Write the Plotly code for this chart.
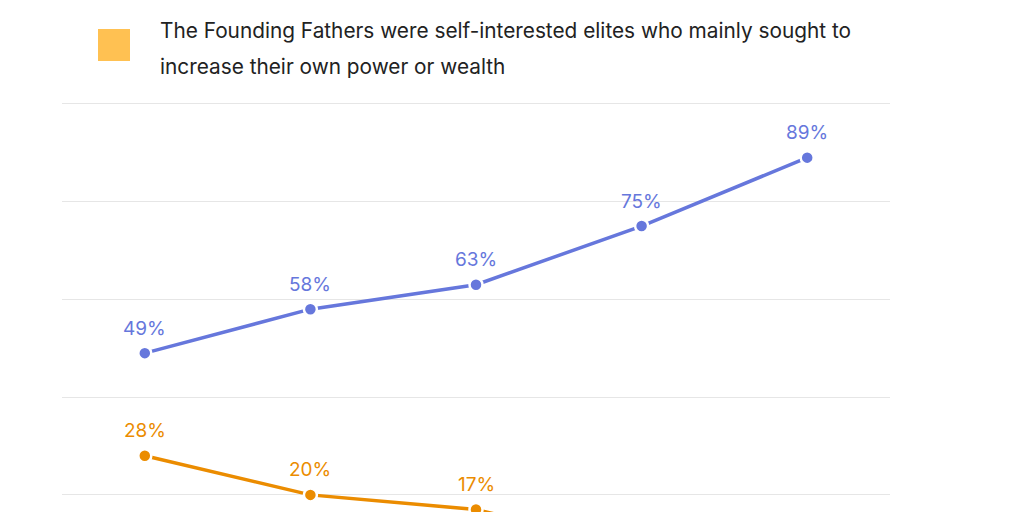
import plotly.graph_objects as go

categories = ["Group 1", "Group 2", "Group 3", "Group 4", "Group 5"]
blue_values = [49, 58, 63, 75, 89]
orange_values = [28, 20, 17, 9, 5]
legend_line1 = "The Founding Fathers were self-interested elites who mainly sought to"
legend_line2 = "increase their own power or wealth"

BLUE = "#6677DC"
ORANGE = "#EB8C00"
SWATCH = "#FFC152"
FONT = "Inter"

TOP = 99
PH = 512 - TOP

fig = go.Figure()
for vals, col in [(blue_values, BLUE), (orange_values, ORANGE)]:
    fig.add_trace(go.Scatter(
        x=categories, y=vals, mode="lines+markers",
        line=dict(color=col, width=3.5),
        marker=dict(size=13, color=col, line=dict(color="white", width=2.5)),
        showlegend=False, cliponaxis=True,
    ))
    for c, v in zip(categories, vals):
        fig.add_annotation(x=c, y=v, text=f"{v}%", showarrow=False,
                           yshift=25, yanchor="middle", xanchor="center",
                           font=dict(family=FONT, size=19, color=col))

fig.add_shape(type="rect", xref="paper", yref="paper",
              x0=(98 - 62) / 828, x1=(130 - 62) / 828,
              y0=(512 - 61) / PH, y1=(512 - 29) / PH,
              fillcolor=SWATCH, line=dict(width=0))
for txt, yc in [(legend_line1, 30), (legend_line2, 66)]:
    fig.add_annotation(text=txt, xref="paper", yref="paper",
                       x=(158 - 62) / 828, y=(512 - yc) / PH,
                       xanchor="left", yanchor="middle", showarrow=False,
                       font=dict(family=FONT, size=20.8, color="#222222"))

fig.update_layout(
    width=1024, height=512,
    margin=dict(l=62, r=134, t=TOP, b=0),
    paper_bgcolor="white", plot_bgcolor="white",
    font=dict(family=FONT),
    xaxis=dict(range=[-0.5, 4.5], showgrid=False, showticklabels=False,
               zeroline=False, showline=False, ticks=""),
    yaxis=dict(range=[16.5, 101], dtick=20, tick0=0, showgrid=True,
               gridcolor="#E6E6E6", gridwidth=1, showticklabels=False,
               zeroline=False, showline=False, ticks=""),
)
fig.write_html("out.html")
